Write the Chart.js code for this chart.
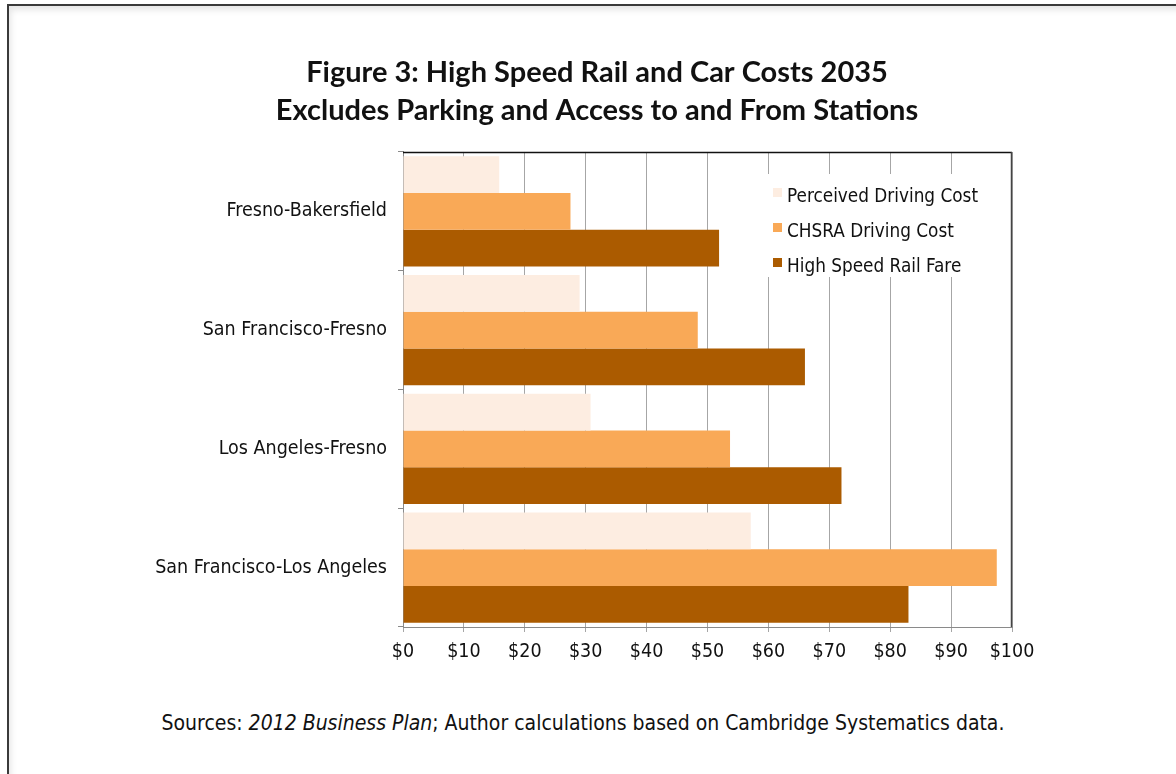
<!DOCTYPE html>
<html>
<head>
<meta charset="utf-8">
<script src="https://cdn.jsdelivr.net/npm/chart.js@4"></script>
<style>
  html, body { margin: 0; padding: 0; background: #fff; width: 1176px; height: 774px; overflow: hidden; }
  #frame { position: absolute; left: 7px; top: 4px; width: 1300px; height: 900px;
           border-top: 2px solid #3a3a3a; border-left: 2px solid #3a3a3a;
           box-shadow: inset 2px 4px 6px rgba(0,0,0,0.10); }
  #wrap { position: absolute; left: 0; top: 0; width: 1176px; height: 690px; }
  #legend { position: absolute; left: 766px; top: 174px; width: 238px; height: 103px; background: #fff;
            font-family: "DejaVu Sans Condensed", "Liberation Sans Narrow", sans-serif; font-size: 18.8px; color: #111; }
  .item { position: absolute; left: 7px; height: 24px; line-height: 24px; white-space: nowrap; }
  .sw { position: absolute; left: 0; top: 4px; width: 9px; height: 9px; }
  .lt { position: absolute; left: 14px; top: 0; }
  #source { position: absolute; left: 0; width: 1166px; top: 711px; text-align: center;
            font-family: "DejaVu Sans Condensed", "Liberation Sans Narrow", sans-serif; font-size: 21px; color: #111; }
</style>
</head>
<body>
<div id="frame"></div>
<div id="wrap"><canvas id="c" width="1176" height="690"></canvas></div>
<div id="legend"></div>
<div id="source">Sources: <i>2012 Business Plan</i>; Author calculations based on Cambridge Systematics data.</div>
<script>
const categories = ['Fresno-Bakersfield', 'San Francisco-Fresno', 'Los Angeles-Fresno', 'San Francisco-Los Angeles'];
const seriesNames = ['Perceived Driving Cost', 'CHSRA Driving Cost', 'High Speed Rail Fare'];
const perceivedCost = [15.8, 29.0, 30.8, 57.1];
const chsraCost = [27.5, 48.4, 53.7, 97.5];
const hsrFare = [51.9, 66.0, 72.0, 83.0];
const seriesColors = ['#FDEDE1', '#F9A957', '#AB5B00'];
const xTickValues = [0, 10, 20, 30, 40, 50, 60, 70, 80, 90, 100];
const titleLines = ['Figure 3: High Speed Rail and Car Costs 2035', 'Excludes Parking and Access to and From Stations'];

const FONT = '"DejaVu Sans Condensed", "Liberation Sans Narrow", sans-serif';

const borderPlugin = {
  id: 'plotBorder',
  afterLayout(chart) {
    // centre the title over the whole figure rather than the padded box
    if (chart.titleBlock) { chart.titleBlock.left = 182; }
  },
  afterDraw(chart) {
    const {ctx, chartArea: a} = chart;
    ctx.save();
    ctx.lineWidth = 1.5;
    ctx.strokeStyle = '#111';
    ctx.beginPath();
    ctx.moveTo(a.left, a.top + 0.5);
    ctx.lineTo(a.right, a.top + 0.5);
    ctx.stroke();
    ctx.strokeStyle = '#444';
    ctx.beginPath();
    ctx.moveTo(a.right - 0.5, a.top);
    ctx.lineTo(a.right - 0.5, a.bottom);
    ctx.stroke();
    ctx.restore();
  }
};

const datasetValues = [perceivedCost, chsraCost, hsrFare];
const chart = new Chart(document.getElementById('c'), {
  type: 'bar',
  data: {
    labels: categories,
    datasets: seriesNames.map((name, i) => ({
      label: name,
      data: datasetValues[i],
      backgroundColor: seriesColors[i],
      borderWidth: 0,
      barPercentage: 1.0,
      categoryPercentage: 0.93
    }))
  },
  options: {
    indexAxis: 'y',
    responsive: false,
    animation: false,
    layout: { padding: { left: 150, right: 164, top: 0, bottom: 23 } },
    plugins: {
      legend: { display: false },
      tooltip: { enabled: false },
      title: {
        display: true,
        text: titleLines,
        color: '#111',
        font: { family: 'Lato, "Open Sans", sans-serif', size: 29, weight: 'bold', lineHeight: 1.31 },
        padding: { top: 54, bottom: 22 }
      }
    },
    scales: {
      x: {
        min: 0, max: 100,
        afterBuildTicks(scale) { scale.ticks = xTickValues.map(v => ({ value: v })); },
        afterFit(scale) { scale.height = 40; },
        ticks: { callback: v => '$' + v, color: '#111', padding: 8, font: { family: FONT, size: 19.5 } },
        grid: { color: '#a6a6a6', lineWidth: 1, tickLength: 5 },
        border: { color: '#8a8a8a', width: 1 }
      },
      y: {
        afterFit(scale) { scale.width = 253; },
        ticks: { color: '#111', padding: 11, font: { family: FONT, size: 19.5 } },
        grid: { drawOnChartArea: false, offset: true, tickLength: 5, color: '#8a8a8a' },
        border: { color: '#8a8a8a', width: 1 }
      }
    }
  },
  plugins: [borderPlugin]
});

// legend built from dataset labels and colours
const leg = document.getElementById('legend');
chart.data.datasets.forEach((ds, i) => {
  const it = document.createElement('div');
  it.className = 'item';
  it.style.top = (10 + i * 35) + 'px';
  it.innerHTML = '<span class="sw" style="background:' + ds.backgroundColor + '"></span><span class="lt"></span>';
  it.querySelector('.lt').textContent = ds.label;
  leg.appendChild(it);
});
</script>
</body>
</html>
